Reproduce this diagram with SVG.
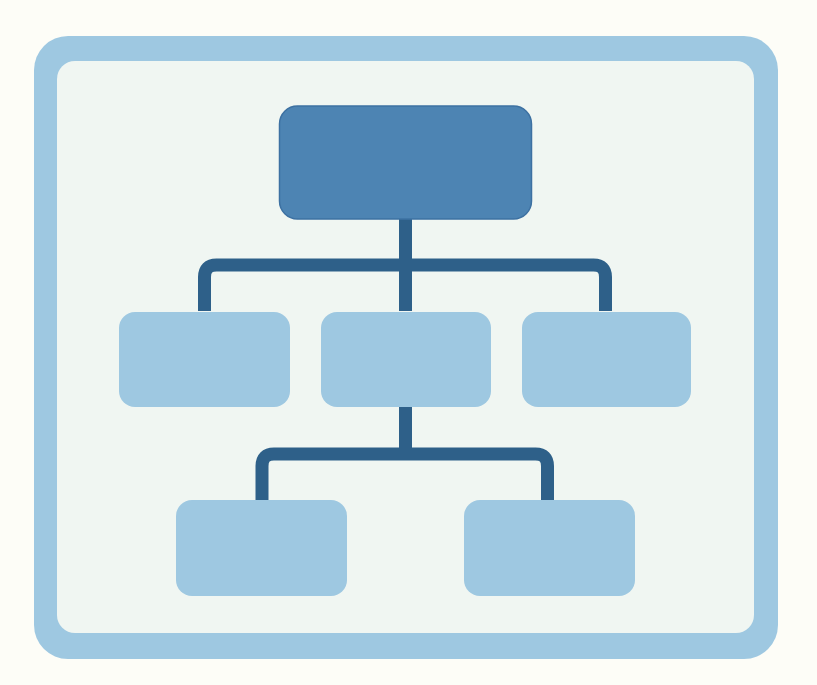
<svg xmlns="http://www.w3.org/2000/svg" width="817" height="685" viewBox="0 0 817 685">
<style>
.light{fill:#9ec8e1;}
.top{fill:#4d84b3;stroke:#3d71a2;stroke-width:1.5;}
.conn{fill:none;stroke:#2e6089;stroke-width:13;stroke-linejoin:round;}
</style>
<rect width="817" height="685" fill="#fdfdf7"/>
<g id="frame">
<rect x="34" y="36" width="744" height="623" rx="34" fill="#9ec8e1"/>
<rect x="57" y="61" width="697" height="572" rx="18" fill="#f0f6f2"/>
</g>
<g id="connectors">
<path class="conn" d="M405.5 218 V311"/>
<path class="conn" d="M204.5 311 V277 Q204.5 265 216.5 265 H593.5 Q605.5 265 605.5 277 V311"/>
<path class="conn" d="M405.5 406 V454"/>
<path class="conn" d="M262 500 V466 Q262 454 274 454 H535.5 Q547.5 454 547.5 466 V500"/>
</g>
<g id="root"><rect class="top" x="279.5" y="106" width="252" height="113" rx="18"/></g>
<g id="child-left"><rect class="light" x="119" y="312" width="171" height="95" rx="16"/></g>
<g id="child-middle"><rect class="light" x="321" y="312" width="170" height="95" rx="16"/></g>
<g id="child-right"><rect class="light" x="522" y="312" width="169" height="95" rx="16"/></g>
<g id="grandchild-left"><rect class="light" x="176" y="500" width="171" height="96" rx="16"/></g>
<g id="grandchild-right"><rect class="light" x="464" y="500" width="171" height="96" rx="16"/></g>
</svg>
